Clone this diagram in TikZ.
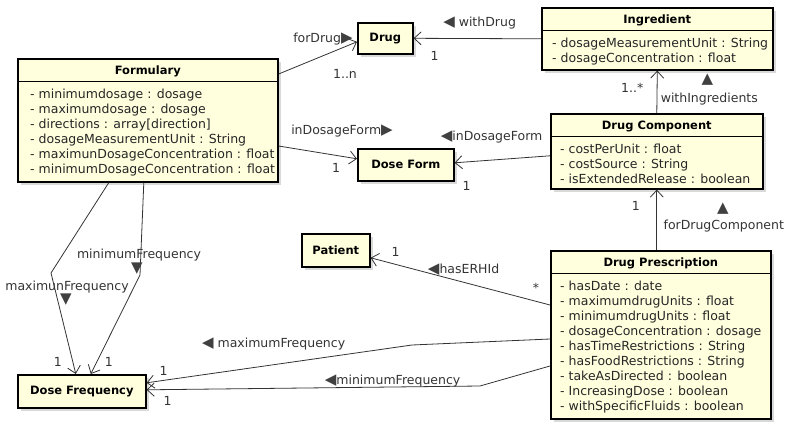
\documentclass[tikz,border=0pt]{standalone}
\usepackage{fontspec}
\setmainfont{DejaVu Sans}
\usetikzlibrary{arrows.meta,shadows}
\definecolor{fond}{RGB}{255,255,222}
\newcommand{\sens}[1]{{\fontsize{15}{15}\selectfont\textcolor{black!75}{#1}}}

\begin{document}
\begin{tikzpicture}[x=1pt, y=-1pt]
	\tikzset{classe/.style={draw=black, line width=1.6pt, fill=fond, anchor=north west, inner sep=0pt,
			drop shadow={shadow xshift=3pt, shadow yshift=-3pt, fill=black, opacity=0.15}},
		titre/.style={font=\fontsize{11.5}{14}\selectfont\bfseries, inner sep=0pt},
		attributs/.style={font=\fontsize{12.5}{15}\selectfont, align=left, anchor=north west, inner sep=0pt, text=black!85},
		lien/.style={draw=black!80, line width=0.8pt, -{Straight Barb[length=7pt,width=13pt]}},
		etiquette/.style={font=\fontsize{12.5}{15}\selectfont, text=black!80, inner sep=0pt}};

	\useasboundingbox (0,0) rectangle (787,426);

	% classes sans attributs
	\foreach \name/\x/\y/\w/\h/\titre in {drug/357/22/55/31/Drug, doseform/357/148/96/32/Dose Form,
		patient/301/233/68/33/Patient, dosefreq/17/374/128/33/Dose Frequency}{
		\node[classe, titre, minimum width=\w, minimum height=\h] (\name) at (\x,\y) {\titre};
	}

	% classes avec attributs
	\foreach \name/\x/\y/\w/\h/\titre in {formulary/17/58/260/123/Formulary, ingredient/541/7/231/62/Ingredient,
		drugcomp/550/113/212/75/Drug Component, drugpres/550/250/220/168/Drug Prescription}{
		\node[classe, minimum width=\w, minimum height=\h] (\name) at (\x,\y) {};
		\node[titre, anchor=base] (\name-titre) at ([yshift=-16]\name.north) {\titre};
		\draw[line width=1pt] ([yshift=-23]\name.north west) -- ([yshift=-23]\name.north east);
	}

	\node[attributs] (formulary-attr) at ([xshift=13,yshift=-31]formulary.north west)
		{- minimumdosage : dosage\\- maximumdosage : dosage\\- directions : array[direction]\\
		 - dosageMeasurementUnit : String\\- maximunDosageConcentration : float\\- minimumDosageConcentration : float};
	\node[attributs] (ingredient-attr) at ([xshift=11,yshift=-31]ingredient.north west)
		{- dosageMeasurementUnit : String\\- dosageConcentration : float};
	\node[attributs] (drugcomp-attr) at ([xshift=10,yshift=-31]drugcomp.north west)
		{- costPerUnit : float\\- costSource : String\\- isExtendedRelease : boolean};
	\node[attributs] (drugpres-attr) at ([xshift=10,yshift=-31]drugpres.north west)
		{- hasDate : date\\- maximumdrugUnits : float\\- minimumdrugUnits : float\\- dosageConcentration : dosage\\
		 - hasTimeRestrictions : String\\- hasFoodRestrictions : String\\- takeAsDirected : boolean\\
		 - IncreasingDose : boolean\\- withSpecificFluids : boolean};

	% associations
	\draw[lien] ([yshift=-16]formulary.north east) -- ([yshift=-3.5]drug.west)
		node[etiquette, pos=1, anchor=east, xshift=-4, yshift=3] (e-fordrug) {forDrug\sens{▶}}
		node[etiquette, pos=1, xshift=-12, yshift=-32] (m-fordrug) {1..n};
	\draw[lien] (ingredient.west) -- (drug.east)
		node[etiquette, pos=1, xshift=66, yshift=15.5] (e-withdrug) {\sens{◀} withDrug}
		node[etiquette, pos=1, xshift=21, yshift=-17.5] (m-withdrug) {1};
	\draw[lien] (drugcomp.north) -- (ingredient.south)
		node[etiquette, pos=1, xshift=-25, yshift=-17] (m-withingr) {1..*}
		node[etiquette, pos=1, xshift=50, yshift=-9] (t-withingr) {\sens{▲}}
		node[etiquette, pos=1, xshift=52, yshift=-28] (e-withingr) {withIngredients};
	\draw[lien] ([yshift=-88]formulary.north east) -- ([yshift=6]doseform.west)
		node[etiquette, pos=1, xshift=-15, yshift=28] (e-indosage1) {inDosageForm\sens{▶}}
		node[etiquette, pos=1, xshift=-21, yshift=-9] (m-indosage1) {1};
	\draw[lien] ([yshift=-4.5]drugcomp.west) -- ([yshift=2]doseform.east)
		node[etiquette, pos=1, xshift=37, yshift=26] (e-indosage2) {\sens{◀}inDosageForm}
		node[etiquette, pos=1, xshift=12, yshift=-23] (m-indosage2) {1};
	\draw[lien] (drugpres.north -| drugcomp.south) -- (drugcomp.south)
		node[etiquette, pos=1, xshift=-21, yshift=-16] (m-fordc) {1}
		node[etiquette, pos=1, xshift=66, yshift=-19] (t-fordc) {\sens{▲}}
		node[etiquette, pos=1, xshift=67, yshift=-36] (e-fordc) {forDrugComponent};
	\draw[lien] ([yshift=-55]drugpres.north west) -- ([yshift=-7.5]patient.east)
		node[etiquette, pos=0, xshift=-14, yshift=17] (m-haserh1) {*}
		node[etiquette, pos=1, xshift=25, yshift=6] (m-haserh2) {1}
		node[etiquette, pos=1, xshift=93, yshift=-12] (e-haserh) {\sens{◀}hasERHId};
	\draw[lien] ([yshift=-89]drugpres.north west) -- (412,345) -- ([yshift=8.5]dosefreq.east)
		node[etiquette, pos=1, xshift=127, yshift=39] (e-maxfreq2) {\sens{◀} maximumFrequency}
		node[etiquette, pos=1, xshift=17, yshift=12] (m-maxfreq2) {1};
	\draw[lien] ([yshift=-116]drugpres.north west) -- (480,386) -- ([yshift=1.5]dosefreq.east)
		node[etiquette, pos=1, xshift=246, yshift=9] (e-minfreq2) {\sens{◀}minimumFrequency}
		node[etiquette, pos=1, xshift=21, yshift=-11] (m-minfreq2) {1};
	\draw[lien] ([xshift=-39]formulary.south) -- (51,273)
		node[etiquette, pos=1, xshift=16, yshift=-14] (e-maxfreq1) {maximunFrequency}
		node[etiquette, pos=1, xshift=15, yshift=-27] (t-maxfreq1) {\sens{▼}}
		-- ([xshift=-6]dosefreq.north)
		node[etiquette, pos=1, xshift=-18, yshift=12] (m-maxfreq1) {1};
	\draw[lien] ([xshift=-4]formulary.south) -- (140,275)
		node[etiquette, pos=1, xshift=-1, yshift=20] (e-minfreq1) {minimumFrequency}
		node[etiquette, pos=1, xshift=-3, yshift=6] (t-minfreq1) {\sens{▼}}
		-- ([xshift=9]dosefreq.north)
		node[etiquette, pos=1, xshift=18, yshift=12] (m-minfreq1) {1};

\end{tikzpicture}
\end{document}
